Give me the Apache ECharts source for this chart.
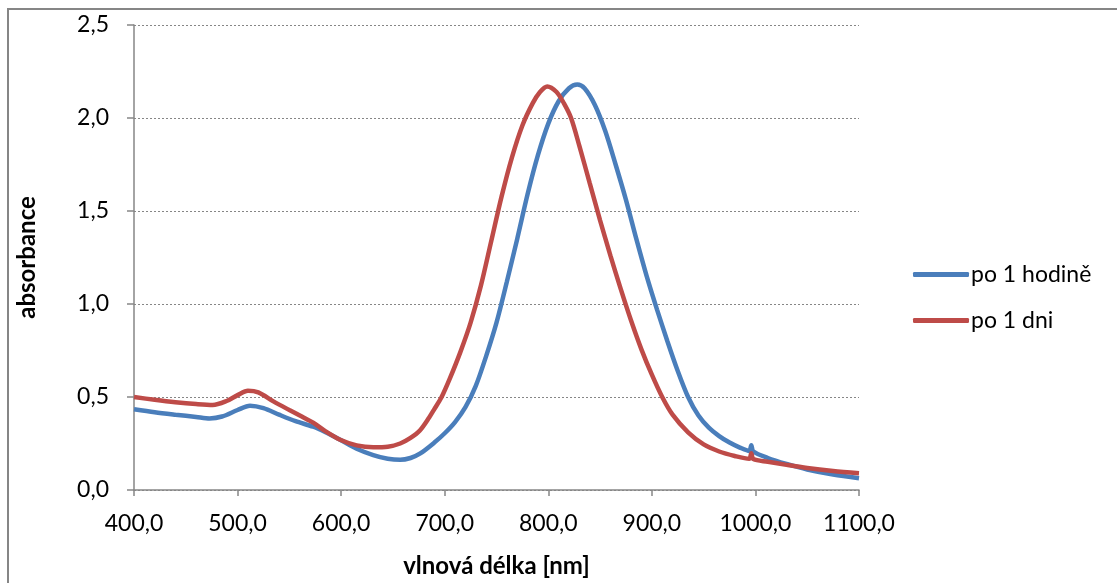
<!DOCTYPE html>
<html>
<head>
<meta charset="utf-8">
<title>absorbance</title>
<script src="https://cdn.jsdelivr.net/npm/echarts@6/dist/echarts.min.js"></script>
<style>
  html, body { margin: 0; padding: 0; background: #fff; }
  #chart { width: 1117px; height: 583px; }
</style>
</head>
<body>
<div id="chart"></div>
<script>
// po 1 hodine
var wlHodine = [400,420,440,460,473,485,500,512,525,540,556,573,585,599,615,631,645,657,667,676,690,700,710,720,730,740,750,760,770,780,790,800,810,820,828,835,845,855,865,875,885,895,905,915,925,935,945,955,965,975,985,994,996,998,1012,1030,1050,1075,1100];
var absHodine = [0.434,0.418,0.405,0.393,0.385,0.395,0.43,0.453,0.44,0.405,0.37,0.34,0.31,0.27,0.222,0.188,0.168,0.162,0.172,0.195,0.255,0.305,0.365,0.445,0.56,0.72,0.9,1.12,1.35,1.59,1.8,1.97,2.09,2.16,2.18,2.16,2.07,1.93,1.75,1.56,1.35,1.15,0.97,0.8,0.64,0.5,0.4,0.335,0.29,0.255,0.228,0.21,0.24,0.207,0.172,0.14,0.11,0.083,0.063];

// po 1 dni
var wlDni = [400,420,440,460,476,490,500,510,520,535,550,562,573,585,599,615,631,645,657,667,676,685,690,697,705,715,725,735,745,755,765,775,785,792,799,808,815,822,830,840,850,860,870,880,890,900,910,920,935,950,965,980,994,996,998,1012,1030,1050,1075,1100];
var absDni = [0.5,0.485,0.472,0.462,0.457,0.48,0.51,0.534,0.525,0.475,0.43,0.395,0.362,0.315,0.27,0.24,0.23,0.233,0.25,0.28,0.32,0.39,0.435,0.5,0.6,0.74,0.9,1.1,1.34,1.58,1.79,1.96,2.08,2.14,2.17,2.14,2.08,2.0,1.85,1.65,1.45,1.26,1.08,0.91,0.755,0.62,0.5,0.405,0.31,0.245,0.207,0.183,0.168,0.198,0.166,0.152,0.135,0.118,0.102,0.09];

var seriesNames = ['po 1 hodině', 'po 1 dni'];

function pairs(xs, ys) {
    var out = [];
    for (var i = 0; i < xs.length; i++) out.push([xs[i], ys[i]]);
    return out;
}
function comma(v) {
    return v.toFixed(1).replace('.', ',');
}

var font = 'Lato, "Open Sans", sans-serif';
var gray = '#868686';

var chart = echarts.init(document.getElementById('chart'));
chart.setOption({
    animation: false,
    textStyle: { fontFamily: font },
    graphic: [{
        type: 'rect',
        shape: { x: 8, y: 9, width: 1300, height: 800 },
        style: { fill: 'none', stroke: gray, lineWidth: 2 }
    }],
    grid: { left: 134, right: 258, top: 25, bottom: 93 },
    legend: {
        orient: 'vertical',
        left: 913,
        top: 263,
        padding: 0,
        itemGap: 23,
        itemWidth: 56,
        itemHeight: 5,
        icon: 'roundRect',
        textStyle: { fontSize: 23, color: '#000', fontFamily: font, padding: [0, 0, 0, -3] },
        data: seriesNames
    },
    xAxis: {
        type: 'value',
        min: 400,
        max: 1100,
        interval: 100,
        name: 'vlnová délka [nm]',
        nameLocation: 'middle',
        nameGap: 64,
        nameTextStyle: { fontSize: 24, fontWeight: 'bold', color: '#000', fontFamily: font },
        axisLine: { show: true, lineStyle: { color: gray, width: 1.5 } },
        axisTick: { show: true, length: 6, lineStyle: { color: gray, width: 1.5 } },
        axisLabel: { fontSize: 23, color: '#000', margin: 22, formatter: comma },
        splitLine: { show: false }
    },
    yAxis: {
        type: 'value',
        min: 0,
        max: 2.5,
        interval: 0.5,
        name: 'absorbance',
        nameLocation: 'middle',
        nameGap: 95,
        nameRotate: 90,
        nameTextStyle: { fontSize: 24, fontWeight: 'bold', color: '#000', fontFamily: font },
        axisLine: { show: true, lineStyle: { color: gray, width: 1.5 } },
        axisTick: { show: true, length: 7, lineStyle: { color: gray, width: 1.5 } },
        axisLabel: { fontSize: 23, color: '#000', margin: 25, formatter: comma },
        splitLine: { show: true, lineStyle: { color: gray, type: [2, 2], width: 1 } }
    },
    series: [{
        name: seriesNames[0],
        type: 'line',
        data: pairs(wlHodine, absHodine),
        smooth: 0.3,
        showSymbol: false,
        symbol: 'none',
        color: '#4a7ebb',
        lineStyle: { width: 4.5, color: '#4a7ebb' }
    }, {
        name: seriesNames[1],
        type: 'line',
        data: pairs(wlDni, absDni),
        smooth: 0.3,
        showSymbol: false,
        symbol: 'none',
        color: '#be4b48',
        lineStyle: { width: 4.5, color: '#be4b48' }
    }]
});
</script>
</body>
</html>
